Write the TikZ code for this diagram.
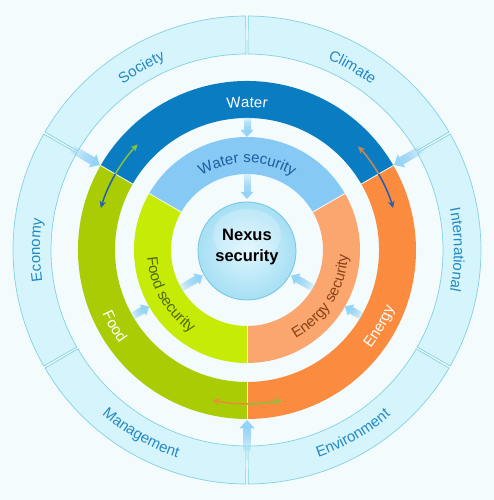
\documentclass[tikz,border=0pt]{standalone}
\usepackage{fontspec}
\setmainfont{Liberation Sans}
\usetikzlibrary{decorations.text,arrows.meta}
\definecolor{bgc}{HTML}{F4FBFD}
\definecolor{ringc}{HTML}{D5F4FB}
\definecolor{ringl}{HTML}{82D2E2}
\definecolor{labc}{HTML}{2389C2}
\definecolor{waterc}{HTML}{0A7DC2}
\definecolor{waters}{HTML}{86C9F5}
\definecolor{foodc}{HTML}{A9CC04}
\definecolor{foods}{HTML}{C6EB06}
\definecolor{energyc}{HTML}{FB8B3E}
\definecolor{energys}{HTML}{FBA66E}
\definecolor{wstext}{HTML}{1E5C9C}
\definecolor{fstext}{HTML}{4F6A08}
\definecolor{estext}{HTML}{8A4318}
\definecolor{arrc}{HTML}{8FD2F6}
\definecolor{circin}{HTML}{DDF5FD}
\definecolor{circout}{HTML}{A6DFF4}
\definecolor{circl}{HTML}{72C6E4}
\definecolor{dgreen}{HTML}{86C23A}
\definecolor{dblue}{HTML}{2160B4}
\definecolor{dtan}{HTML}{C38A5C}
\definecolor{dorange}{HTML}{F08A3A}
\newcommand\lblfont{\fontsize{15}{17}\selectfont}
% annular sector: style, a1, a2, r_in, r_out
\newcommand\ringsector[5]{%
  \path[#1] (#2:#5) arc[start angle=#2, end angle=#3, radius=#5] -- (#3:#4)
    arc[start angle=#3, end angle=#2, radius=#4] -- cycle;}
% clockwise text (tops outward): angle, radius, halfspan, colour, text
\newcommand\cwtext[5]{%
  \path[decorate, decoration={text along path, text align=center, text color=#4,
    text={|\lblfont|#5}}] (#1+#3:#2) arc[start angle=#1+#3, end angle=#1-#3, radius=#2];}
% counterclockwise text (tops inward)
\newcommand\ccwtext[5]{%
  \path[decorate, decoration={text along path, text align=center, text color=#4,
    text={|\lblfont|#5}}] (#1-#3:#2) arc[start angle=#1-#3, end angle=#1+#3, radius=#2];}
% block arrow pointing inward: angle, r_tail, r_tip, shaft half width, head half width
\newcommand\flowarrow[5]{%
  \begin{scope}[rotate=#1]
    \pgfmathsetmacro\hbase{#3+1.1*#5}
    \foreach \k in {0,...,9}{%
      \pgfmathsetmacro\xs{#2-(#2-\hbase)*\k/10}
      \fill[arrc, opacity=0.17] (\xs,-#4) rectangle (\hbase,#4);
    }
    \fill[arrc, opacity=0.95] (\hbase,#5) -- (#3,0) -- (\hbase,-#5) -- cycle;
  \end{scope}}
\tikzset{
  outerseg/.style={fill=ringc, draw=ringl, line width=0.7pt},
  sepline/.style={draw=white, line width=0.9pt, opacity=0.85},
  dbl/.style={line width=1.5pt, -{Stealth[length=7pt,width=6.5pt]}},
}
\begin{document}
\begin{tikzpicture}[x=1pt,y=1pt]
\useasboundingbox (-247,-250) rectangle (247,250);
\fill[bgc] (-247,-250) rectangle (247,250);

% outer ring segments
\foreach \a in {30,90,150,210,270,330}{
  \ringsector{outerseg}{\a+0.3}{\a+60-0.3}{196}{234}
}

% inner bands
\ringsector{fill=waterc}{30}{150}{132}{169}
\ringsector{fill=foodc}{150}{270}{132}{169}
\ringsector{fill=energyc}{270}{390}{132}{169}
\ringsector{fill=waters}{30}{150}{76}{113}
\ringsector{fill=foods}{150}{270}{76}{113}
\ringsector{fill=energys}{270}{390}{76}{113}
\foreach \a in {30,150,270}{
  \draw[sepline] (\a:132) -- (\a:169);
  \draw[sepline] (\a:76) -- (\a:113);
}

% centre circle
\shade[inner color=circin, outer color=circout] (0,-1) circle[radius=49];
\fill[white, opacity=0.22] (0,15) ellipse[x radius=34, y radius=26];
\draw[circl, line width=0.8pt] (0,-1) circle[radius=49];
\node[font=\fontsize{16.5}{21}\selectfont\bfseries, align=center, text=black] (nexus) at (0,3) {Nexus\\security};

% block arrows
\flowarrow{150}{202}{170}{4}{7.5}
\flowarrow{30}{202}{170}{4}{7.5}
\flowarrow{270}{202}{170}{4}{7.5}
\flowarrow{90}{133}{113}{3.5}{6.5}
\flowarrow{210}{133}{113}{3.5}{6.5}
\flowarrow{330}{133}{113}{3.5}{6.5}
\flowarrow{90}{77}{51}{3.5}{6.5}
\flowarrow{210}{77}{51}{3.5}{6.5}
\flowarrow{330}{77}{51}{3.5}{6.5}

% double-headed exchange arrows
\draw[dbl, dgreen] (150:152) arc[start angle=150, end angle=136, radius=152];
\draw[dbl, dblue] (150:152) arc[start angle=150, end angle=164, radius=152];
\draw[dbl, dtan] (30:152) arc[start angle=30, end angle=43, radius=152];
\draw[dbl, dblue] (30:152) arc[start angle=30, end angle=16, radius=152];
\draw[dbl, dorange] (270:154) arc[start angle=270, end angle=257, radius=154];
\draw[dbl, dgreen] (270:154) arc[start angle=270, end angle=283, radius=154];

% outer labels
\cwtext{120}{207}{40}{labc}{Society}
\cwtext{60}{207}{40}{labc}{Climate}
\cwtext{0}{207}{45}{labc}{International}
\cwtext{180}{207}{40}{labc}{Economy}
\ccwtext{240}{219}{45}{labc}{Management}
\ccwtext{300}{219}{45}{labc}{Environment}

% band labels
\cwtext{90}{143}{40}{white}{Water}
\ccwtext{210}{158}{40}{white}{Food}
\ccwtext{330}{158}{40}{white}{Energy}
\cwtext{90}{87}{60}{wstext}{Water security}
\ccwtext{210}{100}{60}{fstext}{Food security}
\ccwtext{328}{101}{60}{estext}{Energy security}
\end{tikzpicture}
\end{document}
